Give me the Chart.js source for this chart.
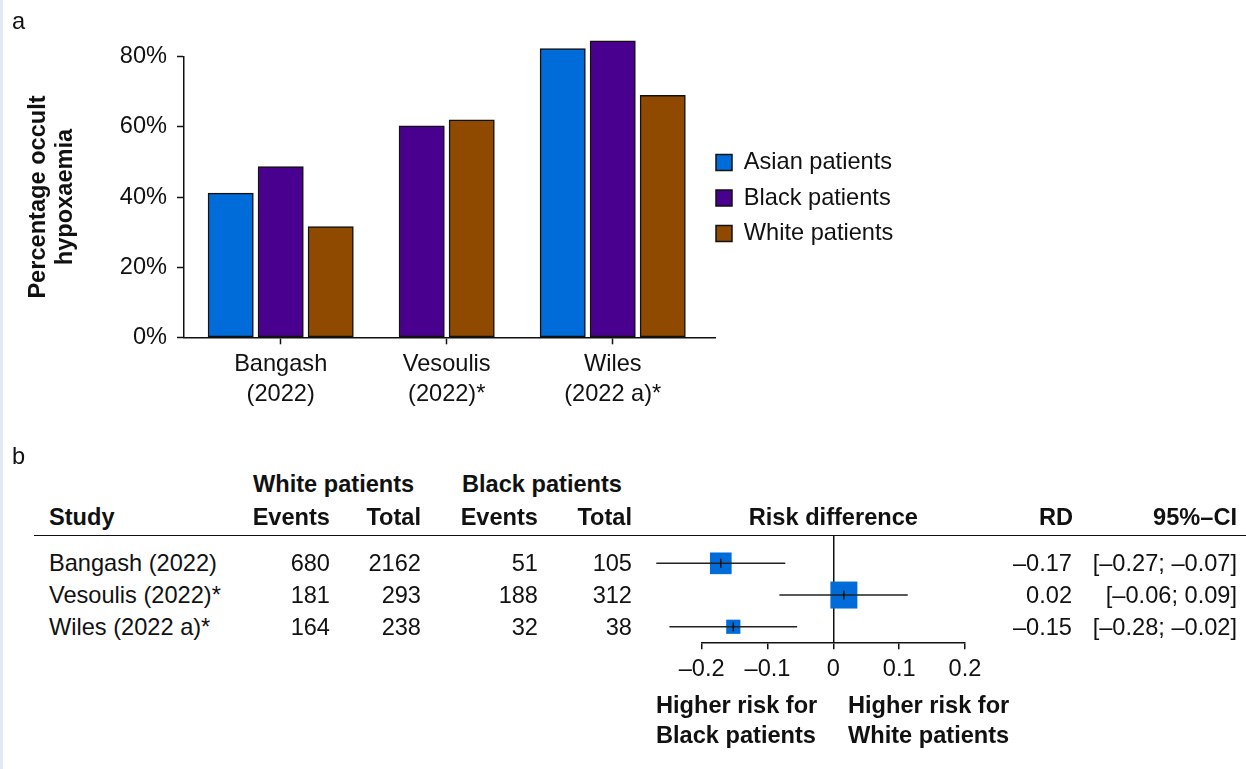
<!DOCTYPE html>
<html lang="en">
<head>
<meta charset="UTF-8">
<title>Occult hypoxaemia by race</title>
<script src="https://cdn.jsdelivr.net/npm/chart.js"></script>
<style>
  html, body { margin: 0; padding: 0; background: #fff; }
  body { width: 1246px; height: 769px; position: relative; overflow: hidden;
         font-family: 'Liberation Sans', Arial, sans-serif; color: #111; }
  .edge { position: absolute; left: 0; top: 0; width: 3px; height: 769px; background: #e4eaf4; }
  #barBox { position: absolute; left: 0; top: 0; width: 1246px; height: 440px; }
  #forestBox { position: absolute; left: 600px; top: 500px; width: 420px; height: 200px; }
  .t { position: absolute; white-space: nowrap; height: 30px; line-height: 30px; font-size: 23.6px; }
  .b { font-weight: bold; }
  .rule { position: absolute; left: 34px; right: 0; top: 535px; border-top: 1.5px solid #111; }
</style>
</head>
<body>
<div class="edge"></div>
<div id="barBox"><canvas id="bars"></canvas></div>
<div id="forestBox"><canvas id="forest"></canvas></div>
<div class="rule"></div>

<script>
    // ---- panel a: percentage with occult hypoxaemia ----
    const studies = [['Bangash', '(2022)'], ['Vesoulis', '(2022)*'], ['Wiles', '(2022 a)*']];
    const groups = ['Asian patients', 'Black patients', 'White patients'];
    const asianPct = [41.1, null, 82.3];
    const blackPct = [48.7, 60.3, 84.5];
    const whitePct = [31.6, 62.0, 69.0];
    const pctTicks = [0, 20, 40, 60, 80];

    // ---- panel b: forest plot table ----
    const studyNames = ['Bangash (2022)', 'Vesoulis (2022)*', 'Wiles (2022 a)*'];
    const whiteEvents = [680, 181, 164];
    const whiteTotal = [2162, 293, 238];
    const blackEvents = [51, 188, 32];
    const blackTotal = [105, 312, 38];
    const rdText = ['–0.17', '0.02', '–0.15'];
    const ciText = ['[–0.27; –0.07]', '[–0.06; 0.09]', '[–0.28; –0.02]'];
    const rdEst = [-0.171, 0.016, -0.152];
    const ciLow = [-0.269, -0.082, -0.249];
    const ciHigh = [-0.073, 0.113, -0.055];
    const weightPct = [33.6, 52.0, 14.4];
    const rdTicks = [-0.2, -0.1, 0, 0.1, 0.2];

    const FS = 23.6;
    Chart.defaults.font.family = "'Liberation Sans', Arial, sans-serif";
    Chart.defaults.color = '#111';

    const barColors = ['#006cd9', '#4a008f', '#8f4a00'];
    const seriesVals = [asianPct, blackPct, whitePct];
    const toPoints = vals => vals.map((v, i) => ({ x: i, y: v }));

    const barChart = new Chart(document.getElementById('bars'), {
        type: 'bar',
        data: {
            datasets: groups.map((g, k) => ({
                label: g,
                data: toPoints(seriesVals[k]),
                backgroundColor: barColors[k],
                borderColor: '#111',
                borderWidth: 1.5,
                borderSkipped: false,
                barThickness: 50,
                maxBarThickness: 45.3,
                skipNull: true,
                clip: false
            }))
        },
        options: {
            responsive: true,
            maintainAspectRatio: false,
            animation: false,
            layout: { padding: { left: 0, top: 56.7, right: 346, bottom: 12.7 } },
            plugins: {
                tooltip: { enabled: false },
                legend: {
                    position: 'right',
                    fullSize: false,
                    maxWidth: 185,
                    title: { display: true, text: '', padding: 0, font: { size: 10, lineHeight: 1.3 } },
                    labels: {
                        boxWidth: 16,
                        boxHeight: 16,
                        padding: 1,
                        color: '#111',
                        font: { size: FS, lineHeight: 1.462 },
                        generateLabels: chart => Chart.defaults.plugins.legend.labels.generateLabels(chart)
                            .map(it => Object.assign(it, { text: [it.text] }))
                    }
                }
            },
            scales: {
                x: {
                    type: 'linear',
                    offset: false,
                    min: -0.5825,
                    max: 2.616,
                    afterBuildTicks: ax => { ax.ticks = studies.map((s, i) => ({ value: i })); },
                    afterFit: ax => { ax.height = 90; },
                    grid: { offset: false, drawOnChartArea: false, tickLength: 7, tickColor: '#111', tickWidth: 1.5 },
                    border: { color: '#111', width: 1.5 },
                    ticks: {
                        autoSkip: false, maxRotation: 0, padding: 5.4, color: '#111',
                        font: { size: FS, lineHeight: 1.271 },
                        callback: (v, i) => studies[i]
                    }
                },
                y: {
                    min: 0,
                    max: 80,
                    afterBuildTicks: ax => { ax.ticks = pctTicks.map(v => ({ value: v })); },
                    afterFit: ax => { ax.width = 184; },
                    grid: { drawOnChartArea: false, tickLength: 7, tickColor: '#111', tickWidth: 1.5 },
                    border: { color: '#111', width: 1.5 },
                    ticks: { padding: 10, color: '#111', font: { size: FS }, callback: v => v + '%' },
                    title: {
                        display: true,
                        text: ['Percentage occult', 'hypoxaemia'],
                        color: '#111',
                        font: { size: FS, weight: 'bold', lineHeight: 1.144 },
                        padding: { top: 24.5, bottom: 0 }
                    }
                }
            }
        }
    });

    // forest plot: CI lines, weighted squares, estimate ticks
    const ciSets = studyNames.map((s, i) => ({
        data: [{ x: ciLow[i], y: i }, { x: ciHigh[i], y: i }],
        showLine: true,
        borderColor: '#222',
        borderWidth: 1.5,
        pointRadius: 0,
        clip: false,
        order: 1
    }));

    const forestChart = new Chart(document.getElementById('forest'), {
        type: 'scatter',
        data: {
            datasets: [
                {
                    data: rdEst.map((v, i) => ({ x: v, y: i })),
                    pointStyle: 'line',
                    pointRotation: 90,
                    pointRadius: 4.5,
                    pointBorderColor: '#111',
                    pointBorderWidth: 1.5,
                    borderColor: '#111',
                    clip: false,
                    order: 0
                },
                ...ciSets,
                {
                    data: rdEst.map((v, i) => ({ x: v, y: i })),
                    pointStyle: 'rect',
                    pointRadius: c => 2.645 * Math.sqrt(weightPct[c.dataIndex]),
                    pointBackgroundColor: '#006cd9',
                    backgroundColor: '#006cd9',
                    pointBorderWidth: 0,
                    clip: false,
                    order: 2
                }
            ]
        },
        options: {
            responsive: true,
            maintainAspectRatio: false,
            animation: false,
            layout: { padding: { left: 101.7, right: 55, top: 35.7, bottom: 17.7 } },
            plugins: { legend: { display: false }, tooltip: { enabled: false } },
            scales: {
                x: {
                    type: 'linear',
                    min: -0.2,
                    max: 0.2,
                    afterBuildTicks: ax => { ax.ticks = rdTicks.map(v => ({ value: v })); },
                    afterFit: ax => { ax.height = 40; },
                    grid: {
                        color: c => (c.tick && c.tick.value === 0) ? '#111' : 'rgba(0,0,0,0)',
                        lineWidth: 1.5, tickLength: 7, tickColor: '#111', tickWidth: 1.5
                    },
                    border: { color: '#111', width: 1.5 },
                    ticks: {
                        padding: 6.5, color: '#111', font: { size: FS },
                        callback: v => v === 0 ? '0' : (v < 0 ? '–' : '') + Math.abs(v).toFixed(1)
                    }
                },
                y: { type: 'linear', display: false, reverse: true, min: -0.871, max: 2.49 }
            }
        }
    });

    // ---- text of panel b ----
    function put(text, cls, x, cy, align) {
        const d = document.createElement('div');
        d.className = 't ' + cls;
        d.textContent = text;
        d.style.top = (cy - 15) + 'px';
        if (align === 'right') {
            d.style.right = (1246 - x) + 'px';
        } else if (align === 'center') {
            d.style.left = x + 'px';
            d.style.transform = 'translateX(-50%)';
        } else {
            d.style.left = x + 'px';
        }
        document.body.appendChild(d);
    }

    put('a', '', 12, 21, 'left');
    put('b', '', 12, 456, 'left');

    put('White patients', 'b', 253, 484, 'left');
    put('Black patients', 'b', 462, 484, 'left');
    put('Study', 'b', 49, 516.5, 'left');
    put('Events', 'b', 330, 516.5, 'right');
    put('Total', 'b', 421, 516.5, 'right');
    put('Events', 'b', 538, 516.5, 'right');
    put('Total', 'b', 632, 516.5, 'right');

    const fx = forestChart.scales.x, fy = forestChart.scales.y;
    const fLeft = 600, fTop = 500;
    put('Risk difference', 'b', fLeft + fx.getPixelForValue(0), 516.5, 'center');
    put('RD', 'b', 1073, 516.5, 'right');
    put('95%–CI', 'b', 1237, 516.5, 'right');

    studyNames.forEach((s, i) => {
        const cy = fTop + fy.getPixelForValue(i);
        put(s, '', 49, cy, 'left');
        put(String(whiteEvents[i]), '', 330, cy, 'right');
        put(String(whiteTotal[i]), '', 421, cy, 'right');
        put(String(blackEvents[i]), '', 538, cy, 'right');
        put(String(blackTotal[i]), '', 632, cy, 'right');
        put(rdText[i], '', 1072, cy, 'right');
        put(ciText[i], '', 1237, cy, 'right');
    });

    put('Higher risk for', 'b', 656, 705, 'left');
    put('Black patients', 'b', 656, 735, 'left');
    put('Higher risk for', 'b', 848, 705, 'left');
    put('White patients', 'b', 848, 735, 'left');
</script>
</body>
</html>
